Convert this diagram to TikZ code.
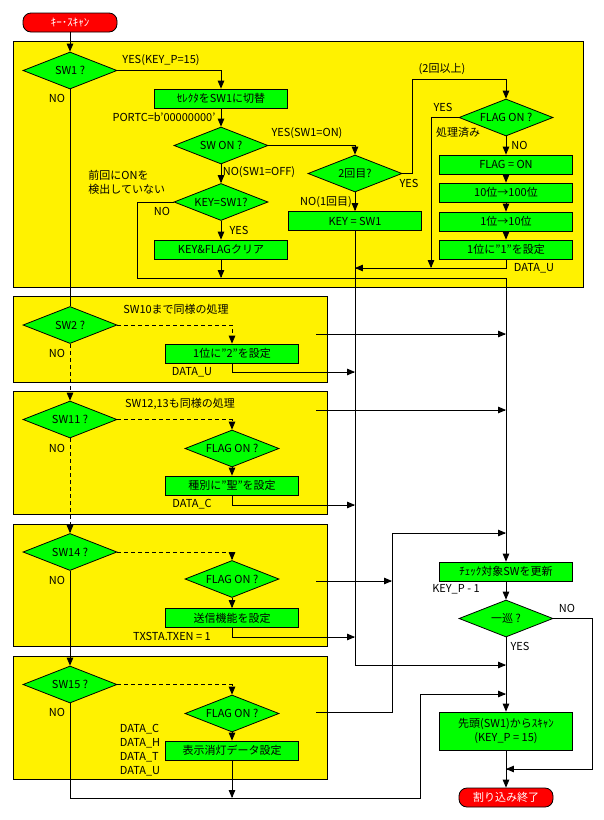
\documentclass[tikz,border=0pt]{standalone}
\usepackage{fontspec}
\setmainfont{Noto Sans CJK JP}
\usetikzlibrary{arrows,shapes.geometric}

\begin{document}
\begin{tikzpicture}[x=1pt,y=-1pt,line width=0.8pt,>=triangle 45,
                    every node/.style={font=\fontsize{11}{14}\selectfont,inner sep=0pt},
                    term/.style={draw,fill=red,text=white,rounded corners=8pt,minimum width=94pt,minimum height=19pt},
                    proc/.style={draw,fill=green,minimum width=133pt,minimum height=19pt},
                    dec/.style={draw,fill=green,diamond,aspect=2.5,minimum width=94pt,minimum height=37pt},
                    group/.style={draw,fill=yellow},
                    dashline/.style={dash pattern=on 4pt off 3pt}]

\useasboundingbox (0,0) rectangle (604,820);

\draw[group] (13,41) rectangle (583,287);
\draw[group] (13,296) rectangle (327,382);
\draw[group] (13,391) rectangle (327,514);
\draw[group] (13,524) rectangle (327,646);
\draw[group] (13,656) rectangle (327,779);

\node[term] (start) at (70,22.5) {ｷｰ･ｽｷｬﾝ};
\node[dec] (sw1) at (70,70.5) {SW1 ?} edge[<-] (start);
\node[proc] (sel) at (221,98.5) {ｾﾚｸﾀをSW1に切替};
\node[dec] (swon) at (221,145.5) {SW ON ?} edge[<-] (sel);
\node[dec] (keyeq) at (221,202) {KEY=SW1?} edge[<-] (swon);
\node[proc] (clr) at (221,249.5) {KEY\&FLAGクリア} edge[<-] (keyeq);
\node[dec] (twice) at (355,173.5) {2回目?};
\node[proc] (keyset) at (355,221) {KEY = SW1} edge[<-] (twice);
\node[dec] (flagon) at (506,117.5) {FLAG ON ?};
\node[proc] (flgset) at (506,164.5) {FLAG = ON} edge[<-] (flagon);
\node[proc] (d100) at (506,192.5) {10位→100位} edge[<-] (flgset);
\node[proc] (d10) at (506,221.5) {1位→10位} edge[<-] (d100);
\node[proc] (set1) at (506,249.5) {1位に”1”を設定} edge[<-] (d10);

\node (yes1) at (161,60) {YES(KEY\_P=15)};
\node (portc) at (164,117) {PORTC=b’00000000’};
\node (no1) at (57,98) {NO};
\node (yes2) at (307,133) {YES(SW1=ON)};
\node (no2) at (259,172) {NO(SW1=OFF)};
\node[align=left,anchor=north west] (prev) at (88,170) {前回にONを\\検出していない};
\node (no3) at (162,211) {NO};
\node (yes3) at (239,230) {YES};
\node (no4) at (326,202) {NO(1回目)};
\node (yes4) at (409,183) {YES};
\node (more) at (442,69) {(2回以上)};
\node (yes5) at (443,107) {YES};
\node (done) at (458,132) {処理済み};
\node[anchor=west] (no5) at (511,145) {NO};
\node (datau1) at (534,268) {DATA\_U};

\coordinate (c1) at (412,79);
\coordinate (j1) at (431,268);
\coordinate (j2) at (355,268);
\coordinate (j3) at (221,278);
\coordinate (c2) at (137,278);
\coordinate (j4) at (506,665);
\draw[->] (sw1.east) -| (sel.north);
\draw[->] (swon.east) -| (twice.north);
\draw[->] (twice.east) -| (c1) -| (flagon.north);
\draw[->] (flagon.west) -| (j1);
\draw[->] (set1.south) |- (j2);
\draw[->] (clr.south) -- (j3);
\draw (keyeq.west) -| (c2) -- (j3);

\node[dec] (sw2) at (70,325) {SW2 ?};
\node[proc] (set2) at (232,353.5) {1位に”2”を設定};
\node (note2) at (176,309) {SW10まで同様の処理};
\node (no6) at (57,353) {NO};
\node (datau2) at (192,372) {DATA\_U};

\node[dec] (sw11) at (70,419.5) {SW11 ?};
\node[dec] (fl11) at (232,448.5) {FLAG ON ?};
\node[proc] (kind) at (232,485.5) {種別に”聖”を設定} edge[<-] (fl11);
\node (note3) at (180,404) {SW12,13も同様の処理};
\node (no7) at (57,448) {NO};
\node (datac) at (192,504) {DATA\_C};

\node[dec] (sw14) at (70,552) {SW14 ?};
\node[dec] (fl14) at (232,579) {FLAG ON ?};
\node[proc] (txen) at (232,618) {送信機能を設定} edge[<-] (fl14);
\node (no8) at (57,580) {NO};
\node (txsta) at (172,636) {TXSTA.TXEN = 1};

\node[dec] (sw15) at (70,684.5) {SW15 ?} edge[<-] (sw14);
\node[dec] (fl15) at (232,713.5) {FLAG ON ?};
\node[proc] (disp) at (232,750.5) {表示消灯データ設定} edge[<-] (fl15);
\node (no9) at (57,712) {NO};
\node[align=left] (data4) at (140,750.5) {DATA\_C\\DATA\_H\\DATA\_T\\DATA\_U};

\node[proc] (chk) at (506,571.5) {ﾁｪｯｸ対象SWを更新};
\node[dec] (round) at (506,618.5) {一巡 ?} edge[<-] (chk);
\node[proc,minimum height=38pt,align=center] (head) at (506,731) {先頭(SW1)からｽｷｬﾝ\\(KEY\_P = 15)} edge[<-] (round);
\node[term] (end) at (506,797.5) {割り込み終了} edge[<-] (head);
\node (keyp) at (456,589) {KEY\_P - 1};
\node (yes6) at (520,646) {YES};
\node (no10) at (567,608) {NO};

\draw[->] (c2) -| (chk.north);
\draw[->] (keyset.south) |- (j4);
\draw (sw1) -- (sw2);

\coordinate (j5) at (355,372);
\coordinate (r2) at (316,334);
\coordinate (j6) at (506,334);
\draw[->,dashline] (sw2.east) -| (set2.north);
\draw[->,dashline] (sw2) -- (sw11);
\draw[->] (set2.south) |- (j5);
\draw[->] (r2) -- (j6);

\coordinate (j7) at (355,505);
\coordinate (r3) at (316,410);
\coordinate (j8) at (506,410);
\draw[->,dashline] (sw11.east) -| (fl11.north);
\draw[->,dashline] (sw11) -- (sw14);
\draw[->] (kind.south) |- (j7);
\draw[->] (r3) -- (j8);

\coordinate (j9) at (355,637);
\coordinate (r4) at (316,581);
\coordinate (j10) at (392,581);
\draw[->,dashline] (sw14.east) -| (fl14.north);
\draw[->] (txen.south) |- (j9);
\draw[->] (r4) -- (j10);

\coordinate (j11) at (232,798);
\coordinate (c5) at (420,798);
\coordinate (j12) at (506,694);
\coordinate (r5) at (316,712);
\coordinate (c6) at (392,533);
\coordinate (j13) at (506,533);
\draw[->,dashline] (sw15.east) -| (fl15.north);
\draw[->] (disp.south) -- (j11);
\draw[->] (sw15.south) |- (c5) |- (j12);
\draw[->] (r5) -| (c6) -- (j13);

\coordinate (c7) at (592,769);
\coordinate (j14) at (506,769);
\draw[->] (round.east) -| (c7) -- (j14);

\end{tikzpicture}
\end{document}
